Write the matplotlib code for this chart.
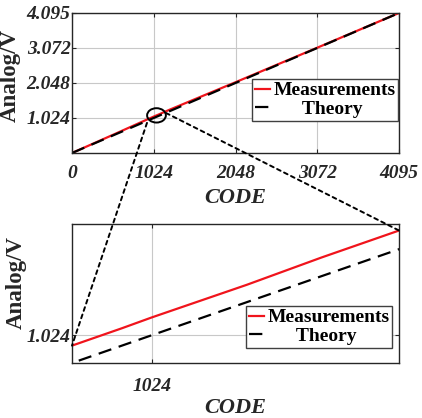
import matplotlib
matplotlib.use("Agg")
from matplotlib import pyplot as plt
from matplotlib.patches import Ellipse, ConnectionPatch

plt.rcParams['font.family'] = ['Liberation Serif', 'DejaVu Serif']

# theory: ideal DAC line
theory_code = [0, 4095]
theory_volt = [0.0, 4.095]

meas_code = [0, 512, 960, 1000, 1024, 1100, 1160, 1222, 2048, 3072, 4095]
meas_volt = [0.0, 0.53, 1.000, 1.040, 1.065, 1.140, 1.203, 1.265, 2.07, 3.08, 4.095]

top_xticks = [0, 1024, 2048, 3072, 4095]
top_yticks = [1.024, 2.048, 3.072, 4.095]
zoom_x = [960, 1222]
zoom_y = [0.96, 1.28]

fig = plt.figure(figsize=(4.22, 4.18), dpi=100)
ax1 = fig.add_axes([0.1706, 0.634, 0.775, 0.335])
ax2 = fig.add_axes([0.1706, 0.1316, 0.775, 0.3325])


def style(ax, ylab_xy):
    ax.grid(True, color='#c8c8c8', linewidth=0.8)
    ax.set_axisbelow(True)
    ax.tick_params(direction='in', top=True, right=True, length=3, colors='#262626')
    ax.tick_params(axis='x', pad=9)
    ax.tick_params(axis='y', pad=1)
    for s in ax.spines.values():
        s.set_color('#262626')
        s.set_linewidth(1.0)
    for lab in ax.get_xticklabels() + ax.get_yticklabels():
        lab.set_fontsize(14)
        lab.set_fontweight('bold')
        lab.set_fontstyle('italic')
        lab.set_color('#262626')
    ax.set_xlabel('CODE', fontsize=16, fontweight='bold', fontstyle='italic', color='#262626')
    ax.set_ylabel('Analog/V', fontsize=16.5, fontweight='bold', color='#262626')
    ax.xaxis.set_label_coords(0.5, -0.25)
    ax.yaxis.set_label_coords(*ylab_xy)


for ax in (ax1, ax2):
    ax.plot(meas_code, meas_volt, color='#f0141c', linewidth=1.6, label='Measurements')
    ax.plot(theory_code, theory_volt, color='black', linewidth=1.6,
            linestyle=(0, (6, 3.5)), label='      Theory')

ax1.set_xlim(0, 4095)
ax1.set_ylim(0, 4.095)
ax1.set_xticks(top_xticks)
ax1.set_xticklabels([str(t) for t in top_xticks])
ax1.set_yticks(top_yticks)
ax1.set_yticklabels(['%.3f' % t for t in top_yticks])

ax2.set_xlim(*zoom_x)
ax2.set_ylim(*zoom_y)
ax2.set_xticks([1024])
ax2.set_xticklabels(['1024'])
ax2.set_yticks([1.024])
ax2.set_yticklabels(['1.024'])

style(ax1, (-0.156, 0.55))
style(ax2, (-0.138, 0.58))
ax2.tick_params(axis='x', pad=11)

legkw = dict(loc='lower left', borderaxespad=0, fancybox=False, framealpha=1,
             edgecolor='#404040', handlelength=0.8, handletextpad=0.15,
             labelspacing=0.05, borderpad=0.15,
             prop=dict(family='Liberation Serif', weight='bold', size=14))
l1 = ax1.legend(bbox_to_anchor=(0.55, 0.229), **legkw)
l2 = ax2.legend(bbox_to_anchor=(0.532, 0.108), **legkw)
for lg in (l1, l2):
    lg.get_frame().set_linewidth(1.0)

# zoom marker
ax1.add_patch(Ellipse((1058, 1.1), 235, 0.42, angle=0, fill=False,
                      edgecolor='black', linewidth=1.4, zorder=5))

for p_top, p_bot in [((939, 0.88), (zoom_x[0], meas_volt[2])),
                     ((1177, 1.17), (zoom_x[1], meas_volt[7]))]:
    con = ConnectionPatch(xyA=p_top, coordsA=ax1.transData,
                          xyB=p_bot, coordsB=ax2.transData,
                          linestyle=(0, (2, 2)), linewidth=1.4, color='black')
    fig.add_artist(con)

fig.savefig('out.png', dpi=100)
